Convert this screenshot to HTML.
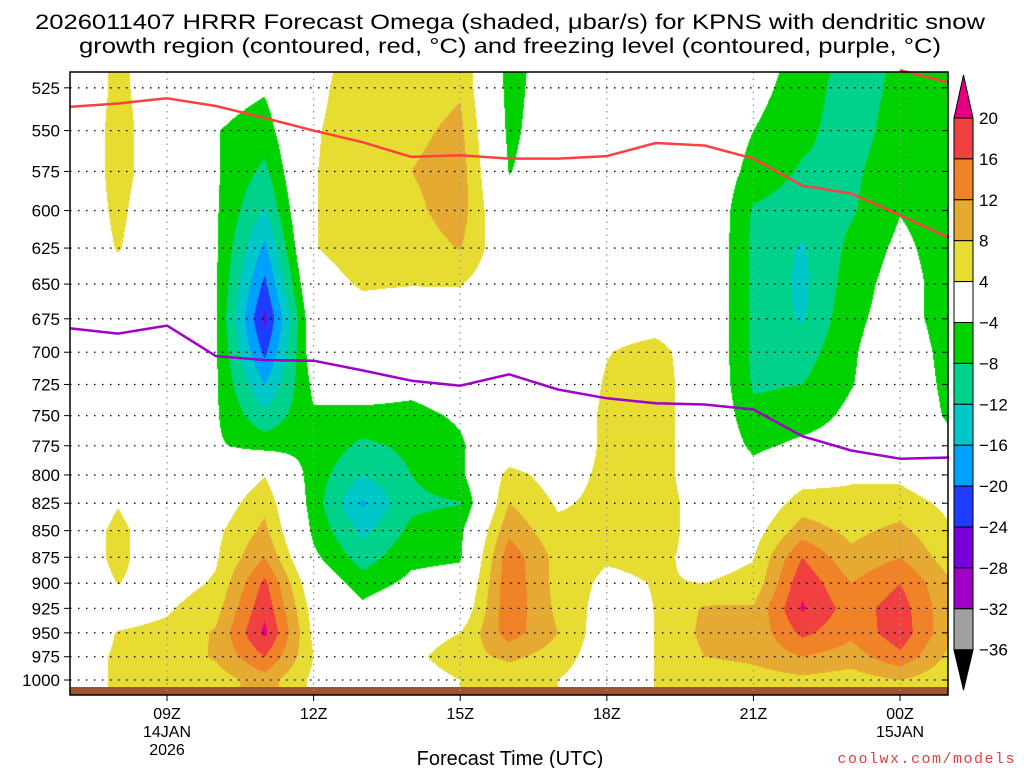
<!DOCTYPE html>
<html><head><meta charset="utf-8"><style>
html,body{margin:0;padding:0;background:#fff;width:1024px;height:768px;overflow:hidden}
#wrap{position:relative;width:1024px;height:768px}
canvas{position:absolute;left:70px;top:72px}
svg{position:absolute;left:0;top:0}
text{font-family:"Liberation Sans",sans-serif;fill:#000}
</style></head><body>
<div id="wrap">
<canvas id="field" width="878" height="616"></canvas>
<svg id="svg" width="1024" height="768"></svg>
</div>
<script>
const hours=[7,8,9,10,11,12,13,14,15,16,17,18,19,20,21,22,23,24,25];
const levels=[500,525,550,575,600,625,650,675,700,725,750,775,800,825,850,875,900,925,950,975,1000];
const omegaByHour=[
[0,0,0,0,0,0,0,0,0,0,0,0,0,0,1,1,1,0,1,2,2],
[5,5,5.5,5.5,5,4.3,2,0,0,0,0,0,1,3.8,5,5,4.1,2,4.2,4.5,4.5],
[1,1,1,1,0,0,0,0,0,0,0,0,0,0,1,1,2,3.5,5,5.5,5],
[-1,-2,-3.8,-3.5,-3.5,-3.5,-3.5,-3.5,-3.5,-3.5,-3.5,-3.5,-1,1,3,3.5,4.5,6.5,8.5,8.5,6],
[-2,-3.5,-6,-9,-12.5,-17,-21,-25,-21,-16,-11,-5.5,3.8,7,9,12,17,19,21,16,10],
[2,3,3.6,3.8,3.8,3.8,2,0,-1,-3,-4.5,-5,-6,-6,-5,-3,0,2,3,4,3],
[6,6,6,6,6,6,4.5,2,0,-2,-5,-9,-12,-16.5,-13,-10,-6,-3,0,2,2],
[6,6,7,8,7,6,4.2,1,-1,-3,-5,-7,-8,-9,-7,-5,-3,0,2,3,2],
[7,7.5,9,10,10,8.2,4.3,1,-1,-2,-3.5,-4.5,-5,-8.2,-5,-4.5,-2,0,4,6,4],
[-6,-5.5,-5,-4.2,-2,0,0,0,-1,-1,-1,0,5.5,8,11,14.5,15,15,14,9,5],
[-1,-1,-1,-1,0,0,0,0,0,0,0,0,2,3.5,5,6.5,6.5,7,8,6,4],
[0,0,0,0,0,0,0,2,3.8,4.5,5,5,5,5,5,4.5,3,2,1,1,1],
[0,0,0,0,0,0,0,2,5.5,6,6,6,6,6,6,5,4.2,4.1,4.1,4.1,4.1],
[0,0,0,0,1,1,1,1,1,1,1,1,1,2,2,2.5,4,8.5,9,8,5],
[-1,-2.5,-4,-5.5,-8.5,-9,-9,-9,-9,-8.5,-7,-5,-2,0,2,3.8,5,8.5,9,9,6],
[-5.5,-6,-7,-8.5,-10,-12.5,-13,-12.5,-10,-8,-6,-3,2,6,10,16,19,20.5,17,12,7],
[-9,-10,-10,-9,-8.5,-7,-6,-5,-4.5,-4.2,-3,-2,3.5,5,7,9,12,14,13,10,6],
[-8,-7,-6,-5,-4.2,-3,-2,-2,-1,-1,-1,0,3,6,9,12,16,18,18.5,15,8],
[-6,-6,-6,-6,-6,-6,-6,-6,-5.5,-5,-4.5,-3,0,3,4.5,6,8.5,9,9,7,5]
];
const freezeP=[682,686,680,703,706,706.5,714,722,726,717,729,736,740,741,745,767,779,786,785];
const dgzP=[536,534,531,535.5,542.5,550,557,566,565,567,567,565.5,557.5,559,567,584,589,603,618];
const dgz2Hours=[24,25];
const dgz2P=[515,522];
const yTicks=[525,550,575,600,625,650,675,700,725,750,775,800,825,850,875,900,925,950,975,1000];
const xTickHours=[9,12,15,18,21,24];
const xTickLabels=[["09Z","14JAN","2026"],["12Z"],["15Z"],["18Z"],["21Z"],["00Z","15JAN"]];
const cbLabels=["20","16","12","8","4","\u22124","\u22128","\u221212","\u221216","\u221220","\u221224","\u221228","\u221232","\u221236"];
const cbColors=["#f04040","#f08228","#e6aa32","#e6dc32","#ffffff","#00d200","#00d28c","#00c8c8","#00a0ff","#1e3cff","#7800dc","#a000c8","#a0a0a0"];

function xOf(h){return 167+(h-9)*48.87;}
function yOf(p){return 680-919*Math.log(1000/p);}
function hOf(x){return 9+(x-167)/48.87;}
function pOf(y){return 1000*Math.exp(-(680-y)/919);}
function colorOf(v){
  if(v>=20)return[230,0,127];
  const b=[[16,[240,64,64]],[12,[240,130,40]],[8,[230,170,50]],[4,[230,220,50]],[-4,[255,255,255]],[-8,[0,210,0]],[-12,[0,210,140]],[-16,[0,200,200]],[-20,[0,160,255]],[-24,[30,60,255]],[-28,[120,0,220]],[-32,[160,0,200]],[-36,[160,160,160]]];
  for(const [t,c] of b){if(v>=t)return c;}
  return[0,0,0];
}
const cv=document.getElementById('field');const ctx=cv.getContext('2d');
const W=cv.width,H=cv.height;const img=ctx.createImageData(W,H);
for(let y=0;y<H;y++){
  const p=pOf(72+y+0.5);let fj=(p-levels[0])/25;fj=Math.max(0,Math.min(levels.length-1.0001,fj));
  const j=Math.floor(fj),tj=fj-j;
  for(let x=0;x<W;x++){
    let fi=hOf(70+x+0.5)-hours[0];fi=Math.max(0,Math.min(hours.length-1.0001,fi));
    const i=Math.floor(fi),ti=fi-i;
    const a=omegaByHour[i][j],b=omegaByHour[i+1][j],c=omegaByHour[i][j+1],d=omegaByHour[i+1][j+1];
    const v=(a*(1-ti)+b*ti)*(1-tj)+(c*(1-ti)+d*ti)*tj;
    const col=colorOf(v);const k=(y*W+x)*4;
    img.data[k]=col[0];img.data[k+1]=col[1];img.data[k+2]=col[2];img.data[k+3]=255;
  }
}
ctx.putImageData(img,0,0);

const NS="http://www.w3.org/2000/svg";const svg=document.getElementById('svg');
function el(tag,attrs,parent){const e=document.createElementNS(NS,tag);for(const k in attrs)e.setAttribute(k,attrs[k]);(parent||svg).appendChild(e);return e;}
function txt(s,attrs){const e=el('text',attrs);e.textContent=s;return e;}

const g=el('rect',{x:70,y:687,width:878,height:8,fill:'#9c5530'});


yTicks.forEach(p=>{const y=yOf(p);
  const l=el('line',{x1:70,x2:948,y1:y,y2:y,stroke:'#000','stroke-width':1.3,'stroke-dasharray':'1.5,6.5'});
  
  
  const t=el('line',{x1:64,x2:70,y1:y,y2:y,stroke:'#000','stroke-width':1});
  
  
  const t2=el('line',{x1:948,x2:943,y1:y,y2:y,stroke:'#000','stroke-width':1});
  
  
  const lb=txt(String(p),{x:60,y:y+6,'text-anchor':'end','font-size':17});
  
  
});
xTickHours.forEach((h,i)=>{const x=xOf(h);
  const l=el('line',{x1:x,x2:x,y1:72,y2:695,stroke:'#999','stroke-width':1.3,'stroke-dasharray':'1.5,5'});
  
  
  const t=el('line',{x1:x,x2:x,y1:695,y2:701,stroke:'#000','stroke-width':1});
  
  
  xTickLabels[i].forEach((s,k)=>{const lb=txt(s,{x:x,y:719+k*18,'text-anchor':'middle','font-size':16});
    
    });
});
function poly(hs,ps,color,name){
  const pts=hs.map((h,i)=>xOf(h).toFixed(1)+','+yOf(ps[i]).toFixed(1)).join(' ');
  const e=el('polyline',{points:pts,fill:'none',stroke:color,'stroke-width':2.5,'stroke-linejoin':'round'});
  
  
}
poly(hours,freezeP,'#a000c8','freezing-level-line');
poly(hours,dgzP,'#ff4040','dendritic-growth-line');
poly(dgz2Hours,dgz2P,'#ff4040','dendritic-growth-line-upper');
const fr=el('rect',{x:70,y:72,width:878,height:623,fill:'none',stroke:'#000','stroke-width':1.5});


const cb=el('g',{});


const tri1=el('polygon',{points:'954,118 973,118 963.5,75',fill:'#e6007f',stroke:'#000','stroke-width':1},cb);


cbColors.forEach((c,i)=>{const r=el('rect',{x:954,y:118+i*40.9,width:19,height:40.9,fill:c,stroke:'#000','stroke-width':1},cb);
  
  });
const tri2=el('polygon',{points:'954,650 973,650 963.5,690',fill:'#000',stroke:'#000','stroke-width':1},cb);


cbLabels.forEach((s,i)=>{const lb=txt(s,{x:979,y:118+i*40.9+6,'font-size':17});
  
  });
const t1=txt('2026011407 HRRR Forecast Omega (shaded, \u03bcbar/s) for KPNS with dendritic snow',{x:510,y:29,'text-anchor':'middle','font-size':21,textLength:950,lengthAdjust:'spacingAndGlyphs'});


const t2=txt('growth region (contoured, red, \u00b0C) and freezing level (contoured, purple, \u00b0C)',{x:510,y:53,'text-anchor':'middle','font-size':21,textLength:862,lengthAdjust:'spacingAndGlyphs'});


const xt=txt('Forecast Time (UTC)',{x:510,y:765,'text-anchor':'middle','font-size':20});


const cr=txt('coolwx.com/models',{x:1016,y:763,'text-anchor':'end','font-size':15,'letter-spacing':'1.5',style:'fill:#e04040;font-family:"Liberation Mono",monospace'});


</script>
</body></html>
